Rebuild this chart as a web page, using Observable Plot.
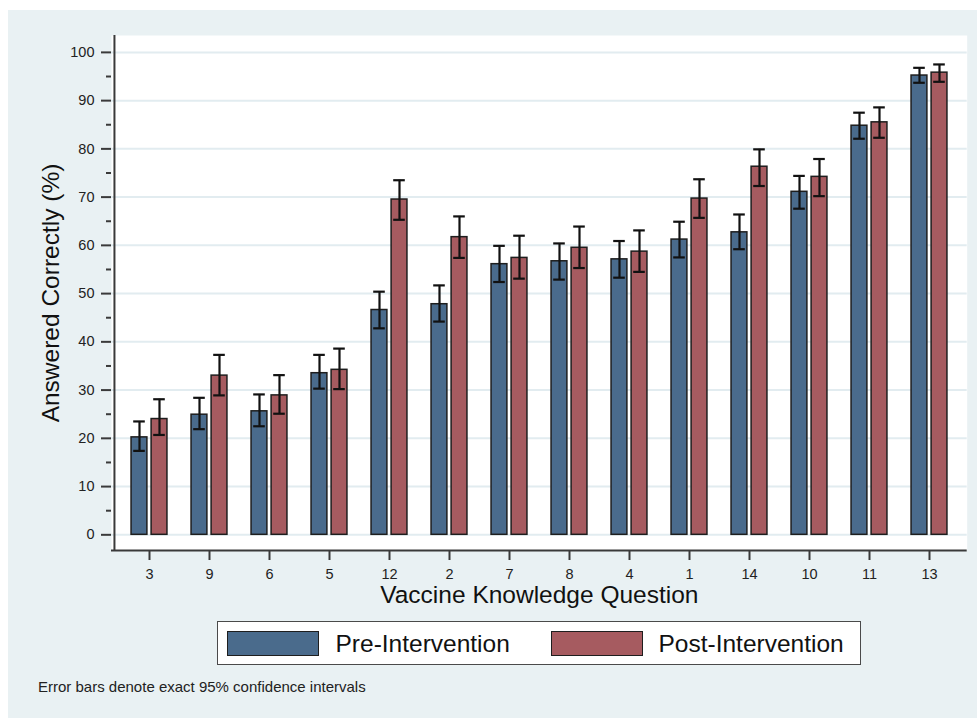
<!DOCTYPE html>
<html>
<head>
<meta charset="utf-8">
<script src="https://cdn.jsdelivr.net/npm/d3@7"></script>
<script src="https://cdn.jsdelivr.net/npm/@observablehq/plot@0.6"></script>
<style>
  html, body { margin: 0; padding: 0; background: #fff; }
  #wrap { position: relative; width: 977px; height: 718px; font-family: "Liberation Sans", Arial, sans-serif; }
  #bg { position: absolute; left: 8px; top: 10px; width: 969px; height: 708px; background: #e9f1f3; }
  #chart { position: absolute; left: 0; top: 0; }
  #legend { position: absolute; left: 217px; top: 621px; width: 642px; height: 42px; background: #fff; border: 1.5px solid #4a4a4a; }
  .sw { position: absolute; top: 9px; width: 90px; height: 23px; border: 1.5px solid #1e1e1e; }
  .lt { position: absolute; top: 0; line-height: 43px; font-size: 24.5px; color: #111; }
  #caption { position: absolute; left: 38px; top: 678px; font-size: 15px; color: #222; line-height: 18px; }
</style>
</head>
<body>
<div id="wrap">
  <div id="bg"></div>
  <div id="chart"></div>
  <div id="legend"></div>
  <div id="caption"></div>
</div>
<script>
const questions = ["3","9","6","5","12","2","7","8","4","1","14","10","11","13"];
const pre    = [20.2,24.9,25.6,33.5,46.6,47.8,56.1,56.7,57.1,61.2,62.7,71.1,84.8,95.2];
const preLo  = [17.4,21.9,22.5,30.3,42.8,44.2,52.4,52.9,53.3,57.5,59.2,67.6,82.1,93.7];
const preHi  = [23.5,28.4,29.1,37.3,50.4,51.7,59.9,60.4,60.9,64.9,66.4,74.4,87.5,96.8];
const post   = [24.0,33.0,28.9,34.2,69.5,61.7,57.4,59.5,58.7,69.7,76.3,74.2,85.5,95.8];
const postLo = [20.7,28.9,25.1,30.2,65.3,57.4,53.1,55.3,54.5,65.7,72.3,70.2,82.3,93.9];
const postHi = [28.1,37.3,33.1,38.6,73.5,66.0,62.0,63.9,63.1,73.7,79.9,77.9,88.6,97.5];
const series = ["Pre-Intervention", "Post-Intervention"];
const colors = ["#4a6b8c", "#a65b60"];
const yTicks = [0,10,20,30,40,50,60,70,80,90,100];
const yMinor = [5,15,25,35,45,55,65,75,85,95];
const yTitle = "Answered Correctly (%)";
const xTitle = "Vaccine Knowledge Question";
const captionText = "Error bars denote exact 95% confidence intervals";

const preRows = questions.map((q, i) => ({q, s: series[0], v: pre[i], lo: preLo[i], hi: preHi[i]}));
const postRows = questions.map((q, i) => ({q, s: series[1], v: post[i], lo: postLo[i], hi: postHi[i]}));

const axisColor = "#3a3a3a";
const font = "Liberation Sans, Arial, sans-serif";

// layout
const W = 977, H = 610, mL = 111, mR = 10.3, mT = 35, mB = 60;
const padOuter = 0.08;
const yDomain = [-3.25, 103.5];
const step = (W - mL - mR) / (questions.length + 2 * padOuter);

function bars(rows, inL, inR, capL, capR, dx) {
  return [
    Plot.barY(rows, {x: "q", y: "v", fill: "s", stroke: "#1e1e1e", strokeWidth: 1.5, insetLeft: inL, insetRight: inR}),
    Plot.ruleX(rows, {x: "q", y1: "lo", y2: "hi", dx, stroke: "#111", strokeWidth: 2.2}),
    Plot.tickY(rows, {x: "q", y: "hi", insetLeft: capL, insetRight: capR, stroke: "#111", strokeWidth: 2.2}),
    Plot.tickY(rows, {x: "q", y: "lo", insetLeft: capL, insetRight: capR, stroke: "#111", strokeWidth: 2.2})
  ];
}

const chart = Plot.plot({
  width: W,
  height: H,
  marginLeft: mL,
  marginRight: mR,
  marginTop: mT,
  marginBottom: mB,
  style: {background: "transparent", fontFamily: font, color: "#222"},
  x: {domain: questions, paddingInner: 0, paddingOuter: padOuter, label: null, axis: null},
  y: {domain: yDomain, label: null, axis: null},
  color: {domain: series, range: colors},
  marks: [
    Plot.frame({fill: "white", stroke: null}),
    Plot.gridY(yTicks, {stroke: "#e2ecf0", strokeOpacity: 1, strokeWidth: 2}),
    ...bars(preRows, 12.05, 32.1, 14.2, 34.2, -10),
    ...bars(postRows, 32.1, 12.05, 34.2, 14.2, 10),
    // axis lines (left and bottom)
    Plot.ruleX(questions.slice(0, 1), {x: d => d, dx: -(padOuter + 0.5) * step, stroke: axisColor, strokeWidth: 2}),
    Plot.ruleY(yDomain.slice(0, 1), {stroke: axisColor, strokeWidth: 2}),
    Plot.axisY(yTicks, {tickSize: 10, tickPadding: 7, fontSize: 14.5, stroke: axisColor, strokeWidth: 2, label: null}),
    Plot.axisY(yMinor, {tickSize: 5, tickFormat: () => "", stroke: axisColor, strokeWidth: 2, label: null}),
    Plot.axisX({tickSize: 10, tickPadding: 8, fontSize: 14.5, stroke: axisColor, strokeWidth: 2, label: null}),
    Plot.text([yTitle], {text: d => d, frameAnchor: "left", rotate: -90, dx: -60, fontSize: 24.5, fill: "#111", lineAnchor: "middle", textAnchor: "middle"}),
    Plot.text([xTitle], {text: d => d, frameAnchor: "bottom", dy: 45, fontSize: 24.5, fill: "#111", lineAnchor: "middle", textAnchor: "middle"})
  ]
});
document.getElementById("chart").appendChild(chart);

// legend
const legend = document.getElementById("legend");
const swLeft = [8.5, 332.5];
const txLeft = [117.5, 440.5];
series.forEach((s, i) => {
  const sw = document.createElement("div");
  sw.className = "sw";
  sw.style.left = swLeft[i] + "px";
  sw.style.background = colors[i];
  legend.appendChild(sw);
  const t = document.createElement("div");
  t.className = "lt";
  t.style.left = txLeft[i] + "px";
  t.textContent = s;
  legend.appendChild(t);
});
document.getElementById("caption").textContent = captionText;
</script>
</body>
</html>
